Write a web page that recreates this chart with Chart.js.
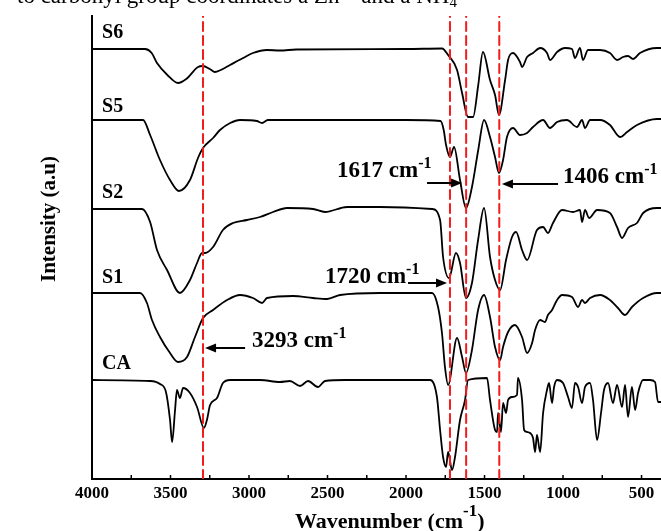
<!DOCTYPE html>
<html><head><meta charset="utf-8">
<script src="https://cdn.jsdelivr.net/npm/chart.js@4.4.1/dist/chart.umd.min.js"></script>
<style>html,body{margin:0;padding:0;background:#fff;overflow:hidden}#wrap{width:661px;height:531px;position:relative}</style>
</head><body><div id="wrap"><canvas id="c" width="661" height="531"></canvas></div>
<script>
// ---- data (wavenumber in cm-1, relative intensity, vertical offsets) ----
const seriesNames = ['S6', 'S5', 'S2', 'S1', 'CA'];
const seriesOffsets = [430, 359, 270, 186, 99];

const s6Wn = [4000,3662,3620,3586,3520,3452,3400,3325,3293,3250,3217,3180,3121,3038,2975,2885,2803,2700,2000,1771,1732,1675,1643,1605,1573,1540,1510,1465,1433,1408,1369,1350,1318,1274,1261,1229,1191,1146,1102,1083,1038,987,943,924,892,873,841,764,701,656,618,586,554,510,401,376];
const s6Val = [0,0,-4,-14,-26,-34,-30,-18,-17,-20,-23,-21,-16,-9,-4,-1,-1.5,-0.5,0,0.5,-6,-21,-44,-68,-68,-36,-3,-31,-46,-66,-31,-11,-4,-13,-18,-8,-4,1,-4,-11,-3,1,0,-9,1,-11,-1,-1,-4,-11,-8,-7,-10,-4,1,1];

const s5Wn = [4000,3675,3630,3567,3503,3446,3376,3325,3293,3229,3185,3120,3057,2950,2917,2880,2000,1780,1760,1745,1720,1694,1656,1618,1580,1540,1503,1465,1433,1408,1382,1357,1318,1274,1229,1191,1127,1083,1038,975,911,879,860,828,764,701,637,592,529,401,376];
const s5Val = [0,0,-15,-40,-60,-71,-60,-38,-28,-18,-10,-3,0,-1,-3,0,0,-1,-10,-25,-37,-27,-60,-88,-67,-30,0,-17,-37,-53,-40,-17,-8,-15,-13,-7,0,-8,-2,0,-7,0,-8,0,0,-5,-17,-12,-5,1,1];

const s2Wn = [4000,3682,3630,3586,3522,3440,3376,3331,3299,3280,3229,3166,3102,3013,2930,2847,2758,2592,2516,2376,2166,1834,1783,1764,1726,1682,1656,1618,1580,1541,1503,1465,1433,1401,1363,1325,1299,1261,1229,1166,1127,1096,1064,1006,936,892,879,860,834,783,701,656,624,586,529,490,401,376];
const s2Val = [0,0,-13,-41,-61,-84,-71,-54,-44,-44,-38,-21,-14,-11,-8,-3,1,0,-3,2,2,0,-11,-48,-69,-44,-54,-89,-74,-31,1,-48,-71,-81,-51,-28,-23,-41,-51,-21,-18,-24,-14,-1,-3,-1,-13,-1,-9,-1,-4,-18,-29,-19,-14,-4,1,1];

const s1Wn = [4000,3694,3650,3618,3567,3503,3452,3395,3344,3293,3229,3140,3057,2975,2917,2885,2720,2592,2503,2420,2166,1834,1796,1771,1752,1732,1675,1643,1618,1580,1541,1503,1465,1433,1401,1382,1350,1306,1261,1229,1197,1178,1146,1115,1096,1070,1038,1006,943,904,879,860,828,764,701,650,605,561,490,401,376];
const s1Val = [0,0,-10,-27,-44,-60,-69,-64,-44,-25,-17,-7,-2,-5,-10,-5,-3,-5,-6,-2,0,0,-14,-40,-74,-92,-45,-64,-80,-57,-17,-2,-24,-54,-67,-54,-39,-32,-44,-60,-50,-37,-27,-29,-22,-17,-7,-2,-4,-14,-7,-10,-5,-2,-7,-15,-22,-14,-5,0,0];

const caWn = [4000,3630,3567,3529,3503,3490,3471,3459,3440,3420,3376,3331,3287,3268,3248,3204,3166,3121,2930,2803,2739,2675,2624,2561,2516,2389,1847,1803,1783,1764,1745,1732,1707,1688,1656,1624,1605,1484,1465,1433,1420,1414,1395,1382,1363,1350,1325,1293,1287,1261,1248,1229,1210,1191,1178,1166,1146,1127,1102,1089,1070,1057,1038,1000,968,943,924,904,879,860,828,809,783,758,739,713,682,656,624,605,586,561,541,522,490,446,414,395,376];
const caVal = [0,-1,-4,-12,-40,-62,-30,-10,-18,-8,-13,-27,-48,-40,-25,-18,-3,0,0,-2,-1,-6,-1,-7,-1,0,0,-17,-50,-77,-87,-72,-90,-77,-40,-20,0,2,-20,-50,-52,-33,-52,-23,-33,-20,-17,-15,2,-20,-50,-52,-53,-58,-72,-55,-72,-33,-10,-3,-23,-7,0,-3,-17,-28,-3,-7,-23,-7,-3,-20,-60,-33,-10,-3,-23,-5,-27,-5,-37,-7,-30,-13,0,0,-2,-22,-22];

const markerWn = [3293, 1720, 1617, 1406];
const xTickLabels = ['4000','3500','3000','2500','2000','1500','1000','500'];
const xTitle = 'Wavenumber (cm';
const yTitle = 'Intensity (a.u)';
const topText = ['to carbonyl group coordinates a Zn', '2+', ' and a NH', '4'];

// ---- layout / style config (not data) ----
const Y_MAX = 463;
const labelWn = 3936;
const labelY = [441, 367, 281, 196, 110];
const peakNotes = [
  {i:0, textWn:2981, textY:132, tail:3025, tip:3280, arrowY:131},
  {i:1, textWn:2516, textY:196, tail:1987, tip:1739, arrowY:196},
  {i:2, textWn:2439, textY:302, tail:1866, tip:1643, arrowY:296},
  {i:3, textWn:1000, textY:296, tail:1032, tip:1389, arrowY:295}
];
const SERIF = '"Liberation Serif", "Times New Roman", serif';

const wnArrays = [s6Wn, s5Wn, s2Wn, s1Wn, caWn];
const valArrays = [s6Val, s5Val, s2Val, s1Val, caVal];

const datasets = [];
markerWn.forEach(w => datasets.push({
  data: [{x:w, y:0}, {x:w, y:Y_MAX}],
  borderColor: '#f21c1c', borderWidth: 2, borderDash: [9,5],
  pointRadius: 0, order: 0, tension: 0
}));
seriesNames.forEach((n, k) => datasets.push({
  label: n,
  data: wnArrays[k].map((w, j) => ({x: w, y: seriesOffsets[k] + valArrays[k][j]})),
  borderColor: '#000', borderWidth: 1.8, pointRadius: 0, order: 1,
  cubicInterpolationMode: 'monotone'
}));

function drawSup(ctx, parts, x, y, bigFont, smallFont, rise) {
  let cx = x;
  parts.forEach(p => {
    if (p.t === 'n') { ctx.font = bigFont; ctx.fillText(p.s, cx, y); cx += ctx.measureText(p.s).width; }
    else if (p.t === 'sup') { ctx.font = smallFont; ctx.fillText(p.s, cx, y - rise); cx += ctx.measureText(p.s).width; }
    else if (p.t === 'sub') { ctx.font = smallFont; ctx.fillText(p.s, cx, y + rise * 0.5); cx += ctx.measureText(p.s).width; }
  });
  return cx - x;
}

function arrow(ctx, x1, x2, y) {
  const dir = Math.sign(x2 - x1);
  ctx.beginPath(); ctx.moveTo(x1, y); ctx.lineTo(x2 - dir * 8, y);
  ctx.lineWidth = 2; ctx.strokeStyle = '#000'; ctx.stroke();
  ctx.beginPath(); ctx.moveTo(x2, y); ctx.lineTo(x2 - dir * 11, y - 4.5); ctx.lineTo(x2 - dir * 11, y + 4.5); ctx.closePath();
  ctx.fillStyle = '#000'; ctx.fill();
}

const overlay = {
  id: 'overlay',
  afterDatasetsDraw(chart) {
    const ctx = chart.ctx, xs = chart.scales.x, ys = chart.scales.y, a = chart.chartArea;
    ctx.save();
    ctx.strokeStyle = '#000'; ctx.lineWidth = 1.5;
    xs.ticks.forEach(t => {
      const px = xs.getPixelForValue(t.value);
      ctx.beginPath(); ctx.moveTo(px, a.bottom); ctx.lineTo(px, a.bottom - 4); ctx.stroke();
    });
    ctx.fillStyle = '#000'; ctx.textAlign = 'left'; ctx.textBaseline = 'alphabetic';
    ctx.font = 'bold 20px ' + SERIF;
    seriesNames.forEach((n, i) => ctx.fillText(n, xs.getPixelForValue(labelWn), ys.getPixelForValue(labelY[i])));
    peakNotes.forEach(p => {
      const tx = xs.getPixelForValue(p.textWn), ty = ys.getPixelForValue(p.textY);
      ctx.fillStyle = '#000';
      drawSup(ctx, [{t:'n', s: markerWn[p.i] + ' cm'}, {t:'sup', s:'-1'}], tx, ty,
        'bold 23px ' + SERIF, 'bold 16px ' + SERIF, 9);
      arrow(ctx, xs.getPixelForValue(p.tail), xs.getPixelForValue(p.tip), ys.getPixelForValue(p.arrowY));
    });
    ctx.restore();
  },
  afterDraw(chart) {
    const ctx = chart.ctx;
    ctx.save();
    ctx.fillStyle = '#000'; ctx.textAlign = 'left'; ctx.textBaseline = 'alphabetic';
    drawSup(ctx, [{t:'n', s:xTitle}, {t:'sup', s:'-1'}, {t:'n', s:')'}], 295, 528,
      'bold 22px ' + SERIF, 'bold 17px ' + SERIF, 12);
    ctx.save();
    ctx.translate(55, 219); ctx.rotate(-Math.PI / 2);
    ctx.font = 'bold 21px ' + SERIF; ctx.textAlign = 'center';
    ctx.fillText(yTitle, 0, 0);
    ctx.restore();
    ctx.textAlign = 'left';
    drawSup(ctx, [{t:'n', s:topText[0]}, {t:'sup', s:topText[1]}, {t:'n', s:topText[2]}, {t:'sub', s:topText[3]}],
      17, 3, '23px ' + SERIF, '15px ' + SERIF, 8);
    ctx.restore();
  }
};

new Chart(document.getElementById('c'), {
  type: 'line',
  data: { datasets },
  options: {
    responsive: false, animation: false, devicePixelRatio: 1,
    layout: { padding: { top: 16, right: 0, left: 0, bottom: 0 } },
    plugins: { legend: { display: false }, tooltip: { enabled: false } },
    elements: { line: { borderCapStyle: 'round', borderJoinStyle: 'round' } },
    scales: {
      x: {
        type: 'linear', reverse: true, min: 376, max: 4000,
        grid: { display: false, drawTicks: false },
        border: { display: true, color: '#000', width: 2 },
        ticks: {
          stepSize: 250, includeBounds: false, autoSkip: false, maxRotation: 0, padding: 4,
          color: '#000', font: { family: SERIF, size: 17, weight: 'bold' },
          callback: v => xTickLabels.includes(String(v)) ? String(v) : ''
        },
        afterFit: s => { s.height = 52; }
      },
      y: {
        type: 'linear', min: 0, max: Y_MAX,
        grid: { display: false, drawTicks: false },
        border: { display: true, color: '#000', width: 2 },
        ticks: { display: false },
        afterFit: s => { s.width = 92; }
      }
    }
  },
  plugins: [overlay]
});
</script></body></html>
